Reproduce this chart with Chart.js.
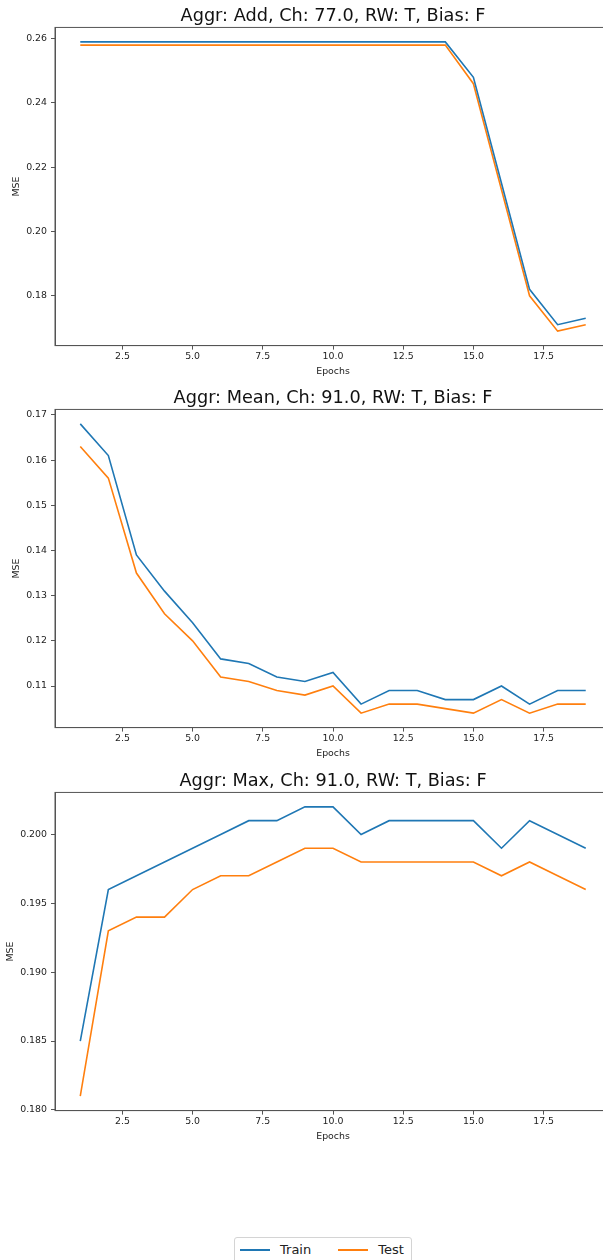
<!DOCTYPE html>
<html>
<head>
<meta charset="utf-8">
<script src="https://cdn.jsdelivr.net/npm/chart.js@4.4.0/dist/chart.umd.min.js"></script>
<style>
  html, body { margin: 0; padding: 0; background: #fff; overflow: hidden; }
  #page { position: relative; width: 603px; height: 1260px; overflow: hidden; }
  .plot { position: absolute; left: 0; }
  #legend {
    position: absolute; left: 234px; top: 1237px;
    display: flex; align-items: center;
    padding: 4px 7px 6px 5px;
    border: 1px solid #d4d4d4; border-radius: 3px; background: #fff;
    font-family: 'DejaVu Sans', sans-serif; font-size: 13px; color: #222;
    line-height: 15px;
  }
  #legend .item { display: flex; align-items: center; }
  #legend .item + .item { margin-left: 27px; }
  #legend .swatch { width: 30px; height: 0; border-top: 2px solid; margin-right: 10px; }
</style>
</head>
<body>
<div id="page">
  <canvas id="chartAdd" class="plot" width="611" height="378" style="top:0px"></canvas>
  <canvas id="chartMean" class="plot" width="611" height="378" style="top:382px"></canvas>
  <canvas id="chartMax" class="plot" width="611" height="378" style="top:765px"></canvas>
  <div id="legend"></div>
</div>
<script>
const epochs = [1, 2, 3, 4, 5, 6, 7, 8, 9, 10, 11, 12, 13, 14, 15, 16, 17, 18, 19];
const seriesLabels = ['Train', 'Test'];
const seriesColors = ['#1f77b4', '#ff7f0e'];
const xTicks = [2.5, 5, 7.5, 10, 12.5, 15, 17.5];

// Aggr: Add
const addTitle = 'Aggr: Add, Ch: 77.0, RW: T, Bias: F';
const addTrain = [0.259, 0.259, 0.259, 0.259, 0.259, 0.259, 0.259, 0.259, 0.259, 0.259, 0.259, 0.259, 0.259, 0.259, 0.248, 0.215, 0.182, 0.171, 0.173];
const addTest  = [0.258, 0.258, 0.258, 0.258, 0.258, 0.258, 0.258, 0.258, 0.258, 0.258, 0.258, 0.258, 0.258, 0.258, 0.246, 0.213, 0.180, 0.169, 0.171];
const addTicks = [0.18, 0.20, 0.22, 0.24, 0.26];

// Aggr: Mean
const meanTitle = 'Aggr: Mean, Ch: 91.0, RW: T, Bias: F';
const meanTrain = [0.168, 0.161, 0.139, 0.131, 0.124, 0.116, 0.115, 0.112, 0.111, 0.113, 0.106, 0.109, 0.109, 0.107, 0.107, 0.110, 0.106, 0.109, 0.109];
const meanTest  = [0.163, 0.156, 0.135, 0.126, 0.120, 0.112, 0.111, 0.109, 0.108, 0.110, 0.104, 0.106, 0.106, 0.105, 0.104, 0.107, 0.104, 0.106, 0.106];
const meanTicks = [0.11, 0.12, 0.13, 0.14, 0.15, 0.16, 0.17];

// Aggr: Max
const maxTitle = 'Aggr: Max, Ch: 91.0, RW: T, Bias: F';
const maxTrain = [0.185, 0.196, 0.197, 0.198, 0.199, 0.200, 0.201, 0.201, 0.202, 0.202, 0.200, 0.201, 0.201, 0.201, 0.201, 0.199, 0.201, 0.200, 0.199];
const maxTest  = [0.181, 0.193, 0.194, 0.194, 0.196, 0.197, 0.197, 0.198, 0.199, 0.199, 0.198, 0.198, 0.198, 0.198, 0.198, 0.197, 0.198, 0.197, 0.196];
const maxTicks = [0.180, 0.185, 0.190, 0.195, 0.200];

const FONT = 'DejaVu Sans';
const AXIS = '#555';
const TEXT = '#222';

// matplotlib style: full box round the axes
const frame = {
  id: 'frame',
  afterDraw(chart) {
    const { ctx, chartArea: a } = chart;
    ctx.save();
    ctx.strokeStyle = AXIS;
    ctx.lineWidth = 1;
    ctx.strokeRect(a.left, a.top, a.right - a.left, a.bottom - a.top);
    ctx.restore();
  }
};

function withMargin(values) {
  const lo = Math.min(...values), hi = Math.max(...values);
  const pad = (hi - lo) * 0.05;
  return [lo - pad, hi + pad];
}

function makeChart(id, title, train, test, yTicks, decimals, yTitlePad) {
  const [xMin, xMax] = withMargin(epochs);
  const [yMin, yMax] = withMargin(train.concat(test));
  const tickFont = { family: FONT, size: 9.4 };

  new Chart(document.getElementById(id), {
    type: 'line',
    data: {
      datasets: [train, test].map((vals, i) => ({
        label: seriesLabels[i],
        data: epochs.map((e, j) => ({ x: e, y: vals[j] })),
        borderColor: seriesColors[i],
        backgroundColor: seriesColors[i],
        borderWidth: 1.6,
        pointRadius: 0,
        tension: 0,
        fill: false
      }))
    },
    options: {
      responsive: false,
      animation: false,
      devicePixelRatio: 1,
      layout: { padding: 0 },
      plugins: {
        legend: { display: false },
        tooltip: { enabled: false },
        title: {
          display: true,
          text: title,
          fullSize: false,
          color: '#111',
          font: { family: FONT, size: 17.7, weight: 'normal' },
          padding: { top: 5.5, bottom: 0.7 }
        }
      },
      scales: {
        x: {
          type: 'linear',
          min: xMin,
          max: xMax,
          afterBuildTicks: s => { s.ticks = xTicks.map(v => ({ value: v })); },
          afterFit: s => { s.height = 32.4; },
          ticks: { callback: v => Number(v).toFixed(1), color: TEXT, font: tickFont, padding: 1, maxRotation: 0, autoSkip: false },
          grid: { drawOnChartArea: false, drawTicks: true, tickLength: 4, color: AXIS },
          border: { display: true, color: AXIS },
          title: { display: true, text: 'Epochs', color: TEXT, font: tickFont, padding: { top: 0, bottom: 1.3 } }
        },
        y: {
          min: yMin,
          max: yMax,
          afterBuildTicks: s => { s.ticks = yTicks.map(v => ({ value: v })); },
          afterFit: s => { s.width = 55; },
          ticks: { callback: v => Number(v).toFixed(decimals), color: TEXT, font: tickFont, padding: 4, autoSkip: false },
          grid: { drawOnChartArea: false, drawTicks: true, tickLength: 4, color: AXIS },
          border: { display: true, color: AXIS },
          title: { display: true, text: 'MSE', color: TEXT, font: tickFont, padding: { top: yTitlePad, bottom: 0 } }
        }
      }
    },
    plugins: [frame]
  });
}

makeChart('chartAdd', addTitle, addTrain, addTest, addTicks, 2, 10.8);
makeChart('chartMean', meanTitle, meanTrain, meanTest, meanTicks, 2, 10.8);
makeChart('chartMax', maxTitle, maxTrain, maxTest, maxTicks, 3, 4.7);

// shared legend under the three plots
const legendEl = document.getElementById('legend');
seriesLabels.forEach((label, i) => {
  const item = document.createElement('div');
  item.className = 'item';
  const swatch = document.createElement('span');
  swatch.className = 'swatch';
  swatch.style.borderTopColor = seriesColors[i];
  const text = document.createElement('span');
  text.textContent = label;
  item.appendChild(swatch);
  item.appendChild(text);
  legendEl.appendChild(item);
});
</script>
</body>
</html>
